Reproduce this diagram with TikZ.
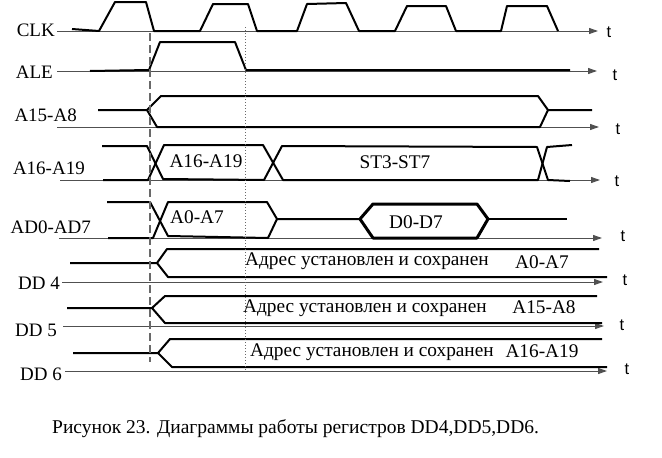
\documentclass[tikz,border=0pt]{standalone}
\usepackage{fontspec}
\setmainfont{Liberation Serif}
\newfontfamily\tfont{Liberation Sans}
\usetikzlibrary{arrows.meta}
\definecolor{dfaxis}{RGB}{80,80,80}
\definecolor{dfgrid}{RGB}{105,105,105}
\tikzstyle{axis} = [line width=1pt, color=dfaxis, -{Triangle[length=9pt,width=6pt]}]
\tikzstyle{wave} = [line width=2pt, line join=round]
\tikzstyle{bus} = [line width=2pt, line join=round]
\tikzstyle{hexbus} = [line width=3pt, line join=round]
\tikzstyle{edgeline} = [line width=1.2pt, color=dfgrid, dash pattern=on 8pt off 4pt]
\tikzstyle{dotline} = [line width=1pt, color=dfgrid, dash pattern=on 1pt off 2pt]
\tikzstyle{siglabel} = [anchor=base east, inner sep=0pt, font=\fontsize{19}{21}\selectfont]
\tikzstyle{buslabel} = [anchor=base, inner sep=0pt, font=\fontsize{19.3}{21}\selectfont]
\tikzstyle{tlabel} = [anchor=base, inner sep=0pt, font=\tfont\fontsize{16.5}{18}\selectfont]

\begin{document}
\begin{tikzpicture}[x=1pt,y=-1pt]
\useasboundingbox (0,0) rectangle (662,458);
% signal names
\node (clk) [siglabel] at (55,36) {CLK};
\node (ale) [siglabel] at (53,78) {ALE};
\node (a15_a8) [siglabel] at (77,121) {A15-A8};
\node (a16_a19) [siglabel] at (85,174) {A16-A19};
\node (ad0_ad7) [siglabel] at (91,233) {AD0-AD7};
\node (dd4) [siglabel] at (60,289) {DD 4};
\node (dd5) [siglabel] at (57,336) {DD 5};
\node (dd6) [siglabel] at (62,380) {DD 6};

% time axes
\draw[axis] (57,31) -- (598,31);
\draw[axis] (57,71) -- (597,71);
\draw[axis] (57,127) -- (599,127);
\draw[axis] (60,180) -- (600,180);
\draw[axis] (59,238) -- (602,238);
\draw[axis] (62,282) -- (603,282);
\draw[axis] (63,326) -- (604,326);
\draw[axis] (65,371) -- (607,371);
\node (t_clk) [tlabel] at (609,37) {t};
\node (t_ale) [tlabel] at (615,80) {t};
\node (t_a15) [tlabel] at (618,134) {t};
\node (t_a16) [tlabel] at (617,186) {t};
\node (t_ad) [tlabel] at (623,241) {t};
\node (t_dd4) [tlabel] at (625,285) {t};
\node (t_dd5) [tlabel] at (622,330) {t};
\node (t_dd6) [tlabel] at (627,374) {t};

% CLK
\draw[wave] (72,29) -- (99,31) -- (115,2) -- (146,2) -- (154,31) -- (200,31)
  -- (213,4) -- (248,4) -- (257,31) -- (297,31) -- (307,4) -- (346,3) -- (359,31)
  -- (395,31) -- (407,6) -- (446,6) -- (456,31) -- (501,31) -- (507,6) -- (547,6) -- (558,31);

% ALE
\draw[wave] (90,71) -- (149,70) -- (160,42) -- (235,42) -- (246,70) -- (570,70);

% A15-A8
\draw[bus] (98,110) -- (147,110) -- (161,96) -- (538,96) -- (548,110) -- (592,110);
\draw[bus] (147,110) -- (157,127) -- (540,127) -- (548,110);

% A16-A19
\draw[bus] (102,146) -- (147,146) -- (163,179) -- (264,180) -- (282,146)
  -- (537,147) -- (548,180) -- (570,181);
\draw[bus] (103,180) -- (148,180) -- (164,145) -- (263,145) -- (283,180)
  -- (538,180) -- (547,147) -- (572,145);
\node (a16_val) [buslabel] at (206,167) {A16-A19};
\node (st_val) [buslabel] at (395,168) {ST3-ST7};

% AD0-AD7
\draw[bus] (107,202) -- (150,202) -- (168,236) -- (268,238) -- (277,219) -- (360,219);
\draw[bus] (108,238) -- (153,238) -- (168,202) -- (267,202) -- (277,219);
\draw[hexbus] (360,219) -- (373,204) -- (477,204) -- (488,219) -- (477,238) -- (373,238) -- cycle;
\draw[bus] (488,219) -- (567,219);
\node (a0_val) [buslabel] at (197,223) {A0-A7};
\node (d0_val) [buslabel] at (416,228) {D0-D7};

% DD4
\draw[bus] (70,263) -- (157,263) -- (167,249) -- (599,249);
\draw[bus] (157,263) -- (168,277) -- (607,277);
\node (dd4_txt) [buslabel, anchor=base west] at (245,265) {Адрес установлен и сохранен};
\node (dd4_val) [buslabel] at (542,268) {A0-A7};

% DD5
\draw[bus] (67,308) -- (152,308) -- (165,296) -- (597,296);
\draw[bus] (152,308) -- (165,323) -- (602,323);
\node (dd5_txt) [buslabel, anchor=base west] at (243,312) {Адрес установлен и сохранен};
\node (dd5_val) [buslabel] at (544,313) {A15-A8};

% DD6
\draw[bus] (73,353) -- (158,353) -- (170,339) -- (602,339);
\draw[bus] (158,353) -- (172,367) -- (607,367);
\node (dd6_txt) [buslabel, anchor=base west] at (250,356) {Адрес установлен и сохранен};
\node (dd6_val) [buslabel] at (542,357) {A16-A19};

% time markers
\draw[edgeline] (150,33) -- (150,362);
\draw[dotline] (245,27) -- (245,370);

\node (caption) [anchor=base west, inner sep=0pt, font=\fontsize{19.5}{21}\selectfont]
  at (52,433) {Рисунок 23. Диаграммы работы регистров DD4,DD5,DD6.};
\end{tikzpicture}
\end{document}
